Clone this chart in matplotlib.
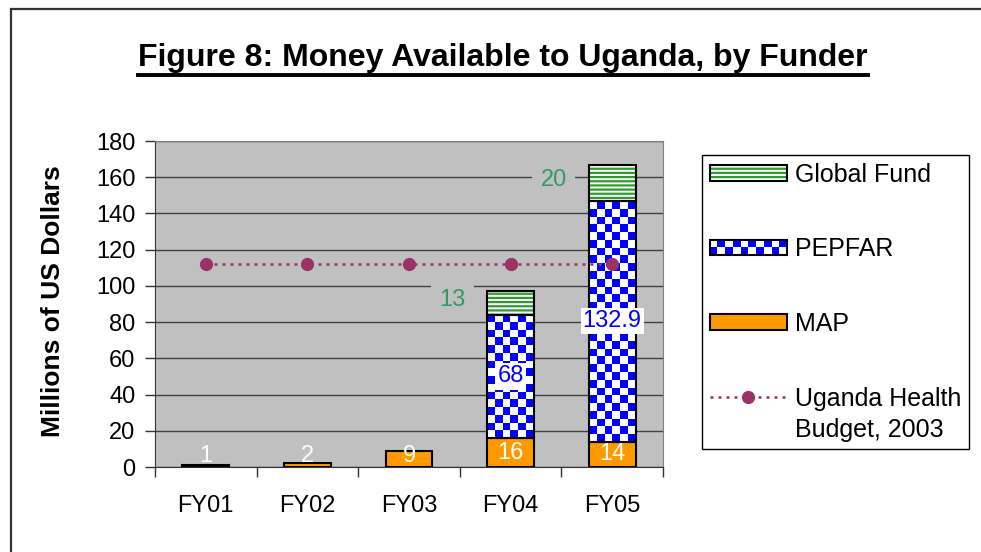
import numpy as np
import matplotlib
matplotlib.use("Agg")
import matplotlib.pyplot as plt
from matplotlib.patches import Rectangle, Patch
from matplotlib.lines import Line2D
from matplotlib.colors import ListedColormap
from matplotlib.legend_handler import HandlerBase, HandlerTuple, HandlerLine2D

# data
years = ['FY01', 'FY02', 'FY03', 'FY04', 'FY05']
map_vals = [1, 2, 9, 16, 14]
pepfar_vals = [0, 0, 0, 68, 132.9]
gf_vals = [0, 0, 0, 13, 20]
budget = [112, 112, 112, 112, 112]
map_labels = ['1', '2', '9', '16', '14']
pepfar_labels = ['', '', '', '68', '132.9']
gf_labels = ['', '', '', '13', '20']

plt.rcParams['font.family'] = ['Liberation Sans', 'DejaVu Sans']
plt.rcParams['hatch.linewidth'] = 1.6

W, H = 981, 552
ORANGE = '#FF9900'
BLUE = '#0000FF'
GREEN = '#339933'
PLUM = '#993366'
FS = 17


class CheckerHandler(HandlerBase):
    # legend swatch for the checkered PEPFAR fill
    def create_artists(self, legend, orig_handle, xdescent, ydescent,
                       width, height, fontsize, trans):
        arts = []
        ncol, nrow = 10, 2
        cw, ch = width / ncol, height / nrow
        for r in range(nrow):
            for c in range(ncol):
                col = BLUE if (r + c) % 2 == 0 else 'white'
                arts.append(Rectangle((-xdescent + c * cw, -ydescent + r * ch), cw, ch,
                                      facecolor=col, edgecolor='none', transform=trans))
        arts.append(Rectangle((-xdescent, -ydescent), width, height, fill=False,
                              edgecolor='black', lw=1.5, transform=trans))
        return arts


class HandlerLineTop(HandlerLine2D):
    # put the line level with the first row of a two-line label
    def create_artists(self, legend, orig_handle, xdescent, ydescent,
                       width, height, fontsize, trans):
        arts = super().create_artists(legend, orig_handle, xdescent, ydescent,
                                      width, height, fontsize, trans)
        for a in arts:
            a.set_ydata(np.asarray(a.get_ydata()) + 0.72 * fontsize)
        return arts


fig = plt.figure(figsize=(W / 100, H / 100), dpi=100)
ax = fig.add_axes([155 / W, 1 - 467 / H, (663 - 155) / W, (467 - 141) / H])
ax.set_facecolor('#C0C0C0')

x = np.arange(len(years))
w = 0.46
map_arr = np.array(map_vals, float)
pep_arr = np.array(pepfar_vals, float)
gf_arr = np.array(gf_vals, float)

ax.bar(x, map_arr, w, color=ORANGE, edgecolor='black', linewidth=1.5, zorder=2)

# PEPFAR: checkerboard image clipped to each bar
checker_cmap = ListedColormap(['white', BLUE])
for i in np.nonzero(pep_arr)[0]:
    y0, h = map_arr[i], pep_arr[i]
    rect = ax.bar(x[i], h, w, bottom=y0, color=BLUE, linewidth=0, zorder=2)[0]
    rows = max(1, int(round(h / 4.3)))
    img = np.add.outer(np.arange(rows), np.arange(6)) % 2
    im = ax.imshow(img, cmap=checker_cmap, extent=(x[i] - w / 2, x[i] + w / 2, y0, y0 + h),
                   origin='lower', aspect='auto', interpolation='nearest', zorder=2.1)
    im.set_clip_path(rect)
    ax.bar(x[i], h, w, bottom=y0, fill=False, edgecolor='black', linewidth=1.5, zorder=2.2)

# Global Fund: green stripes
gf_bottom = map_arr + pep_arr
for i in np.nonzero(gf_arr)[0]:
    ax.bar(x[i], gf_arr[i], w, bottom=gf_bottom[i], color='white', edgecolor=GREEN,
           hatch='----', linewidth=0, zorder=2)
    ax.bar(x[i], gf_arr[i], w, bottom=gf_bottom[i], fill=False, edgecolor='black',
           linewidth=1.5, zorder=2.2)

ax.plot(x, budget, color=PLUM, linestyle=(0, (1.2, 2)), lw=1.8, marker='o', ms=8.5, zorder=3)

# data labels
for i in range(len(years)):
    ax.text(x[i], max(map_arr[i] / 2, 6), map_labels[i], color='white', ha='center',
            va='center', fontsize=FS, zorder=4)
    if pepfar_labels[i]:
        ax.text(x[i], map_arr[i] + pep_arr[i] / 2, pepfar_labels[i], color=BLUE,
                ha='center', va='center', fontsize=FS, zorder=4,
                bbox=dict(facecolor='white', edgecolor='none', pad=1.5))
    if gf_labels[i]:
        ax.annotate(gf_labels[i], (x[i], gf_bottom[i] + gf_arr[i] / 2), xytext=(-42, 2),
                    textcoords='offset points', color='#339966', ha='center', va='center',
                    fontsize=FS, zorder=4,
                    bbox=dict(facecolor='#C0C0C0', edgecolor='none', pad=6))

ax.set_xlim(-0.5, len(years) - 0.5)
ax.set_ylim(0, 180)
ax.set_yticks(range(0, 181, 20))
ax.set_xticks(x)
ax.set_xticklabels(years)
ax.set_xticks(np.arange(-0.5, len(years), 1), minor=True)
ax.tick_params(axis='x', which='major', length=0, pad=20, labelsize=FS)
ax.tick_params(axis='x', which='minor', length=7, width=1, color='#333333')
ax.tick_params(axis='y', length=7, width=1, pad=7, labelsize=FS, color='#333333')
ax.yaxis.grid(True, color='#404040', lw=1)
ax.set_axisbelow(True)
for s in ['left', 'bottom']:
    ax.spines[s].set_color('#333333')
for s in ['top', 'right']:
    ax.spines[s].set_color('#808080')

ax.set_ylabel('Millions of US Dollars', fontsize=19, fontweight='bold')
ax.yaxis.set_label_coords((65 - 155) / (663 - 155), (467 - 301) / (467 - 141))

# legend
h_gf = (Patch(facecolor='white', edgecolor=GREEN, hatch='----', lw=0),
        Patch(fill=False, edgecolor='black', lw=1.5))
h_pep = Patch(facecolor=BLUE)
h_map = Patch(facecolor=ORANGE, edgecolor='black', lw=1.5)
h_line = Line2D([], [], color=PLUM, linestyle=(0, (1.2, 2)), lw=1.8, marker='o', ms=8.5)
leg = fig.legend([h_gf, h_pep, h_map, h_line],
                 ['Global Fund', 'PEPFAR', 'MAP', 'Uganda Health\nBudget, 2003'],
                 loc='upper left', bbox_to_anchor=(702 / W, 1 - 155 / H), borderaxespad=0,
                 fontsize=18, handlelength=3.1, handleheight=0.6, handletextpad=0.32,
                 labelspacing=2.03, borderpad=0.3, fancybox=False, framealpha=1,
                 edgecolor='black',
                 handler_map={tuple: HandlerTuple(ndivide=1), h_pep: CheckerHandler(),
                              h_line: HandlerLineTop(numpoints=1)})
leg.get_frame().set_linewidth(1)
for t in leg.get_texts():
    t.set_linespacing(1.38)

title = fig.text(503 / W, 1 - 58 / H, 'Figure 8: Money Available to Uganda, by Funder',
                 ha='center', va='center', fontsize=23, fontweight='bold')

# outer chart frame
fig.add_artist(Rectangle((11 / W, -0.05), 1.0, 1 - 9 / H + 0.05, transform=fig.transFigure,
                         fill=False, edgecolor='#333333', lw=1.6))

# underline the title
fig.canvas.draw()
bb = title.get_window_extent(fig.canvas.get_renderer())
fig.add_artist(Line2D([bb.x0 / W, bb.x1 / W], [1 - 75 / H, 1 - 75 / H],
                      transform=fig.transFigure, color='black', lw=2.8))

fig.savefig('out.png', dpi=100)
